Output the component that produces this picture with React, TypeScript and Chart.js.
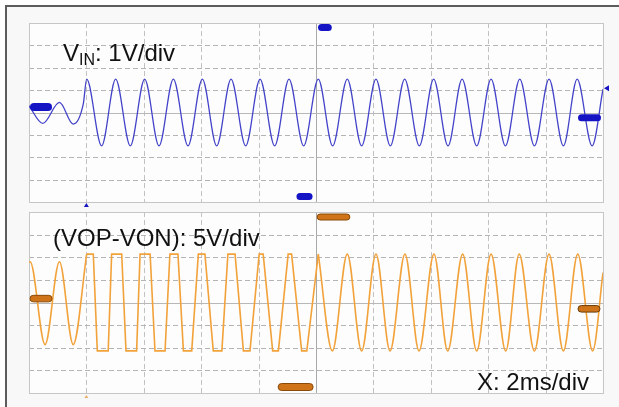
import React, { useEffect, useRef } from "react";
import { Chart, registerables } from "chart.js";

Chart.register(...registerables);

const W = 619;
const H = 407;

// Time axis (ms): 10 divisions of 2 ms
const TIME_MIN = 0;
const TIME_MAX = 20;
const TIME_GRID = [2, 4, 6, 8, 10, 12, 14, 16, 18];

// Channel 1 – VIN (1 V/div), extrema
const VIN_T = [
  0, 0.48, 1.06, 1.54, 1.89, 2.01, 2.53, 3.02, 3.53, 4.03, 4.53, 5.03, 5.54, 6.04,
  6.54, 7.04, 7.55, 8.05, 8.56, 9.06, 9.57, 10.08, 10.58, 11.09, 11.59, 12.09,
  12.59, 13.09, 13.6, 14.1, 14.6, 15.09, 15.6, 16.1, 16.6, 17.1, 17.61, 18.12,
  18.62, 19.1, 19.62, 20.0,
];
const VIN_V = [
  0.3, -0.49, 0.45, -0.52, 0.37, 1.49, -1.49, 1.49, -1.49, 1.49, -1.49, 1.49, -1.49,
  1.49, -1.49, 1.49, -1.49, 1.49, -1.49, 1.49, -1.49, 1.49, -1.49, 1.49, -1.49, 1.49,
  -1.49, 1.49, -1.49, 1.49, -1.49, 1.49, -1.49, 1.49, -1.49, 1.49, -1.49, 1.49, -1.49,
  1.49, -1.49, 1.04,
];

// Channel 2 – (VOP-VON) (5 V/div)
// before the trigger: sine
const VO_PRE_T = [0, 0.04, 0.56, 1.06, 1.54, 2.01];
const VO_PRE_V = [8.9, 9.0, -9.3, 9.0, -9.3, 10.7];
// clipped section
const VO_CLIP_T = [
  2.01, 2.24, 2.38, 2.76, 2.88, 3.23, 3.38, 3.75, 3.87, 4.22, 4.39, 4.74, 4.91, 5.19,
  5.38, 5.67, 5.9, 6.13, 6.42, 6.72, 6.93, 7.18, 7.47, 7.7, 8.02, 8.16, 8.49, 8.69,
  9.03, 9.15, 9.5, 9.68, 10.08,
];
const VO_CLIP_V = [
  10.7, 10.7, -10.7, -10.7, 10.7, 10.7, -10.7, -10.7, 10.7, 10.7, -10.7, -10.7, 10.7,
  10.7, -10.7, -10.7, 10.7, 10.7, -10.7, -10.7, 10.7, 10.7, -10.7, -10.7, 10.7, 10.7,
  -10.7, -10.7, 10.7, 10.7, -10.7, -10.7, 10.7,
];
// unclipped sine section
const VO_SINE_T = [
  10.08, 10.57, 11.09, 11.59, 12.09, 12.58, 13.1, 13.59, 14.11, 14.59, 15.11, 15.6,
  16.1, 16.61, 17.08, 17.61, 18.12, 18.62, 19.12, 19.64, 20.0,
];
const VO_SINE_V = [
  10.7, -10.7, 10.7, -10.7, 10.7, -10.7, 10.7, -10.7, 10.7, -10.7, 10.7, -10.7, 10.7,
  -10.7, 10.7, -10.7, 10.7, -10.7, 10.7, -10.7, 6.6,
];

// vertical ranges (8 divisions)
const VIN_RANGE = [-4, 4];
const VIN_GRID = [-3, -2, -1, 0, 1, 2, 3];
const VO_RANGE = [-20, 20];
const VO_GRID = [-15, -10, -5, 0, 5, 10, 15];

// marker levels / times (in data units)
const CH1_GND = 0.25;
const CH1_RIGHT = -0.23;
const CH1_TRIG_LEVEL = 1.08;
const CH2_GND = 0.86;
const CH2_RIGHT = -1.4;
const TRIG_TIME = 2.0;

const BLUE = "#4343c9";
const BLUE_DARK = "#1414c4";
const ORANGE = "#f2a23a";
const ORANGE_DARK = "#d0741a";

const pts = (t: number[], v: number[]) => t.map((x, i) => ({ x, y: v[i] }));

function pill(ctx: CanvasRenderingContext2D, x0: number, x1: number, cy: number, h: number, fill: string, stroke?: string) {
  const r = h / 2;
  const y0 = cy - r;
  ctx.beginPath();
  ctx.moveTo(x0 + r, y0);
  ctx.lineTo(x1 - r, y0);
  ctx.arc(x1 - r, cy, r, -Math.PI / 2, Math.PI / 2);
  ctx.lineTo(x0 + r, y0 + h);
  ctx.arc(x0 + r, cy, r, Math.PI / 2, (3 * Math.PI) / 2);
  ctx.closePath();
  ctx.fillStyle = fill;
  ctx.fill();
  if (stroke) {
    ctx.strokeStyle = stroke;
    ctx.lineWidth = 1;
    ctx.stroke();
  }
}

function tri(ctx: CanvasRenderingContext2D, p: number[][], fill: string) {
  ctx.beginPath();
  ctx.moveTo(p[0][0], p[0][1]);
  ctx.lineTo(p[1][0], p[1][1]);
  ctx.lineTo(p[2][0], p[2][1]);
  ctx.closePath();
  ctx.fillStyle = fill;
  ctx.fill();
}

function scopePlugin(yGrid: number[], drawMarkers: (chart: any) => void) {
  return {
    id: "scopeGrid",
    beforeDatasetsDraw(chart: any) {
      const { ctx, chartArea: a, scales } = chart;
      const xs = scales.x;
      const ys = scales.y;
      ctx.save();
      ctx.fillStyle = "#fdfdfd";
      ctx.fillRect(a.left, a.top, a.right - a.left, a.bottom - a.top);
      ctx.lineWidth = 1;
      for (const t of TIME_GRID) {
        const px = Math.round(xs.getPixelForValue(t)) + 0.5;
        const center = t === 10;
        ctx.strokeStyle = center ? "#a9a9a9" : "#c2c2c2";
        ctx.setLineDash(center ? [] : [5, 3]);
        ctx.beginPath();
        ctx.moveTo(px, a.top);
        ctx.lineTo(px, a.bottom);
        ctx.stroke();
      }
      for (const v of yGrid) {
        const py = Math.round(ys.getPixelForValue(v)) + 0.5;
        const center = v === 0;
        ctx.strokeStyle = center ? "#b8b8b8" : "#b4b4b4";
        ctx.setLineDash(center ? [] : [5, 3]);
        ctx.beginPath();
        ctx.moveTo(a.left, py);
        ctx.lineTo(a.right, py);
        ctx.stroke();
      }
      ctx.setLineDash([]);
      ctx.strokeStyle = "#c6c6c6";
      ctx.strokeRect(Math.round(a.left) + 0.5, Math.round(a.top) + 0.5, Math.round(a.right - a.left), Math.round(a.bottom - a.top));
      ctx.restore();
    },
    afterDatasetsDraw(chart: any) {
      chart.ctx.save();
      drawMarkers(chart);
      chart.ctx.restore();
    },
  };
}

function drawCh1Markers(chart: any) {
  const { ctx, chartArea: a, scales } = chart;
  const xs = scales.x;
  const ys = scales.y;
  // ground level marker (left)
  pill(ctx, a.left + 1, a.left + 23, ys.getPixelForValue(CH1_GND), 8, BLUE_DARK);
  // right marker
  pill(ctx, a.right - 25, a.right - 2, ys.getPixelForValue(CH1_RIGHT), 7, BLUE_DARK);
  // trigger position marker on top
  pill(ctx, xs.getPixelForValue(10.07), xs.getPixelForValue(10.55), a.top + 4.5, 7, BLUE_DARK);
  // bottom marker
  pill(ctx, xs.getPixelForValue(9.32), xs.getPixelForValue(9.88), a.bottom - 5.5, 7, BLUE_DARK);
  // trigger time arrow below panel
  const tx = xs.getPixelForValue(TRIG_TIME);
  tri(ctx, [[tx - 2.5, a.bottom + 5], [tx + 2.5, a.bottom + 5], [tx, a.bottom + 1]], BLUE_DARK);
  // trigger level arrow at right edge
  const ty = ys.getPixelForValue(CH1_TRIG_LEVEL);
  tri(ctx, [[a.right + 1, ty], [a.right + 6, ty - 3], [a.right + 6, ty + 3]], BLUE_DARK);
}

function drawCh2Markers(chart: any) {
  const { ctx, chartArea: a, scales } = chart;
  const xs = scales.x;
  const ys = scales.y;
  pill(ctx, a.left + 1, a.left + 23, ys.getPixelForValue(CH2_GND), 6.5, ORANGE_DARK, "#8a4a08");
  pill(ctx, a.right - 25, a.right - 3, ys.getPixelForValue(CH2_RIGHT), 6.5, ORANGE_DARK, "#6a3a08");
  pill(ctx, xs.getPixelForValue(10.04), xs.getPixelForValue(11.18), a.top + 5, 6, ORANGE_DARK, "#8a4a08");
  pill(ctx, xs.getPixelForValue(8.68), xs.getPixelForValue(9.9), a.bottom - 6, 7, ORANGE_DARK, "#8a4a08");
  const tx = xs.getPixelForValue(TRIG_TIME);
  tri(ctx, [[tx - 2, a.bottom + 5], [tx + 2, a.bottom + 5], [tx, a.bottom + 2]], "#e9b070");
}

function makeChart(canvas: HTMLCanvasElement, padTop: number, padBottom: number, range: number[], grid: number[], datasets: any[], markers: (c: any) => void) {
  return new Chart(canvas, {
    type: "line",
    data: { datasets },
    options: {
      animation: false,
      responsive: false,
      devicePixelRatio: 1,
      events: [],
      layout: { padding: { left: 29, right: 16, top: padTop, bottom: padBottom } },
      scales: {
        x: { type: "linear", min: TIME_MIN, max: TIME_MAX, display: false },
        y: { type: "linear", min: range[0], max: range[1], display: false },
      },
      plugins: { legend: { display: false }, tooltip: { enabled: false } },
      elements: { point: { radius: 0 } },
    },
    plugins: [scopePlugin(grid, markers)],
  } as any);
}

export default function App() {
  const topRef = useRef<HTMLCanvasElement>(null);
  const botRef = useRef<HTMLCanvasElement>(null);

  useEffect(() => {
    const c1 = makeChart(
      topRef.current!,
      23,
      H - 202,
      VIN_RANGE,
      VIN_GRID,
      [
        {
          data: pts(VIN_T, VIN_V),
          borderColor: BLUE,
          borderWidth: 1.3,
          cubicInterpolationMode: "monotone",
          pointRadius: 0,
        },
      ],
      drawCh1Markers
    );
    const c2 = makeChart(
      botRef.current!,
      212,
      H - 393,
      VO_RANGE,
      VO_GRID,
      [
        { data: pts(VO_PRE_T, VO_PRE_V), borderColor: ORANGE, borderWidth: 1.6, cubicInterpolationMode: "monotone", pointRadius: 0 },
        { data: pts(VO_CLIP_T, VO_CLIP_V), borderColor: ORANGE, borderWidth: 1.6, tension: 0, pointRadius: 0 },
        { data: pts(VO_SINE_T, VO_SINE_V), borderColor: ORANGE, borderWidth: 1.6, cubicInterpolationMode: "monotone", pointRadius: 0 },
      ],
      drawCh2Markers
    );
    return () => {
      c1.destroy();
      c2.destroy();
    };
  }, []);

  const label: React.CSSProperties = {
    position: "absolute",
    fontFamily: "'Liberation Sans', Arial, sans-serif",
    fontSize: 24,
    lineHeight: "24px",
    color: "#111",
    whiteSpace: "nowrap",
  };

  return (
    <div style={{ position: "absolute", left: 0, top: 0, width: W, height: H, background: "#ffffff", overflow: "hidden" }}>
      <div
        style={{
          position: "absolute",
          left: 5,
          top: 5,
          right: 0,
          bottom: 0,
          borderTop: "2px solid #5c5c5c",
          borderLeft: "2px solid #5c5c5c",
          background: "#f8f8f8",
        }}
      />
      <canvas ref={topRef} width={W} height={H} style={{ position: "absolute", left: 0, top: 0 }} />
      <canvas ref={botRef} width={W} height={H} style={{ position: "absolute", left: 0, top: 0 }} />
      <div style={{ ...label, left: 63, top: 41 }}>
        V<span style={{ fontSize: 16, position: "relative", top: 4 }}>IN</span>: 1V/div
      </div>
      <div style={{ ...label, left: 53, top: 226 }}>(VOP-VON): 5V/div</div>
      <div style={{ ...label, left: 477, top: 370 }}>X: 2ms/div</div>
    </div>
  );
}
